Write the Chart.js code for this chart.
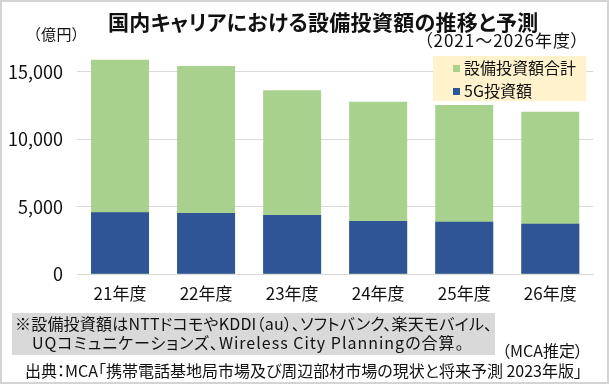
<!DOCTYPE html>
<html lang="ja">
<head>
  <meta charset="UTF-8" />
  <title>国内キャリアにおける設備投資額の推移と予測</title>
  <script src="https://cdn.jsdelivr.net/npm/chart.js"></script>
  <style>
    body { margin: 0; background: #fff; }
    .wrap {
      position: relative;
      width: 609px;
      height: 384px;
      overflow: hidden;
      font-family: "Noto Sans CJK JP", "Noto Sans", sans-serif;
      font-feature-settings: "palt";
      color: #111;
    }
    .wrap canvas { position: absolute; left: 0; top: 0; }
    .frame {
      position: absolute; left: 0; top: 0; right: 0; bottom: 0;
      border: 2px solid #d4d4d4;
      pointer-events: none;
    }
    .txt { position: absolute; white-space: nowrap; line-height: 1; }
    .title { left: 108px; top: 11px; font-size: 21px; font-weight: bold; letter-spacing: 0.3px; }
    .sub { left: 424px; top: 31px; font-size: 17px; letter-spacing: 1px; }
    .unit { left: 33px; top: 26px; font-size: 15px; letter-spacing: 0.5px; }
    .legend {
      position: absolute; left: 433px; top: 56px; width: 153px; height: 45px;
      background: #fff2cc;
    }
    .legend .item { position: absolute; left: 20px; font-size: 16px; line-height: 1; white-space: nowrap; }
    .legend .sw { display: inline-block; width: 7px; height: 7px; margin-right: 4px; vertical-align: 2px; }
    .note {
      position: absolute; left: 12px; top: 313px; width: 483px; height: 42px;
      background: #d9d9d9;
    }
    .note .txt { font-size: 16px; }
    .mca { left: 502px; top: 342px; font-size: 16px; }
    .src { left: 25px; top: 362px; font-size: 16px; }
  </style>
</head>
<body>
  <div class="wrap">
    <canvas id="capexChart" width="609" height="384"></canvas>
    <div class="txt title">国内キャリアにおける設備投資額の推移と予測</div>
    <div class="txt sub">（2021～2026年度）</div>
    <div class="txt unit">（億円）</div>
    <div class="legend">
      <div class="item" style="top:3px"><span class="sw" style="background:#a9d18e"></span>設備投資額合計</div>
      <div class="item" style="top:26px"><span class="sw" style="background:#2f5597"></span>5G投資額</div>
    </div>
    <div class="note">
      <div class="txt" style="left:3px;top:2px;letter-spacing:0.2px">※設備投資額はNTTドコモやKDDI（au）、ソフトバンク、楽天モバイル、</div>
      <div class="txt" style="left:20px;top:21px;letter-spacing:1px">UQコミュニケーションズ、Wireless City Planningの合算。</div>
    </div>
    <div class="txt mca">（MCA推定）</div>
    <div class="txt src">出典：MCA「携帯電話基地局市場及び周辺部材市場の現状と将来予測 2023年版」</div>
    <div class="frame"></div>
  </div>
  <script>
    // values (億円)
    const years = ['21年度', '22年度', '23年度', '24年度', '25年度', '26年度'];
    const totalCapex = [15900, 15450, 13650, 12800, 12550, 12050];
    const capex5G = [4600, 4550, 4400, 3950, 3900, 3750];
    const yTicks = [0, 5000, 10000, 15000];

    const font = "'Noto Sans CJK JP', sans-serif";

    new Chart(document.getElementById('capexChart'), {
      type: 'bar',
      data: {
        labels: years,
        datasets: [
          {
            label: '設備投資額合計',
            data: totalCapex,
            backgroundColor: '#a9d18e',
            order: 1
          },
          {
            label: '5G投資額',
            data: capex5G,
            backgroundColor: '#2f5597',
            order: 0
          }
        ]
      },
      options: {
        responsive: false,
        animation: false,
        devicePixelRatio: 1,
        layout: { padding: { left: 0, right: 15.7, top: 58.5, bottom: 79.7 } },
        datasets: {
          bar: { grouped: false, categoryPercentage: 1, barPercentage: 0.674 }
        },
        plugins: {
          legend: { display: false },
          tooltip: { enabled: false }
        },
        scales: {
          x: {
            afterFit: s => { s.height = 30; },
            grid: { display: false, drawTicks: false },
            border: { color: '#d9d9d9', width: 1 },
            ticks: { color: '#111', padding: 9, maxRotation: 0, font: { family: font, size: 17 } }
          },
          y: {
            min: 0,
            max: 16000,
            afterFit: s => { s.width = 77; },
            afterBuildTicks: s => { s.ticks = yTicks.map(v => ({ value: v })); },
            grid: { color: '#d9d9d9', drawTicks: false },
            border: { display: false },
            ticks: {
              color: '#111',
              padding: 14,
              font: { family: font, size: 18 },
              callback: v => v.toLocaleString('en-US')
            }
          }
        }
      }
    });
  </script>
</body>
</html>
